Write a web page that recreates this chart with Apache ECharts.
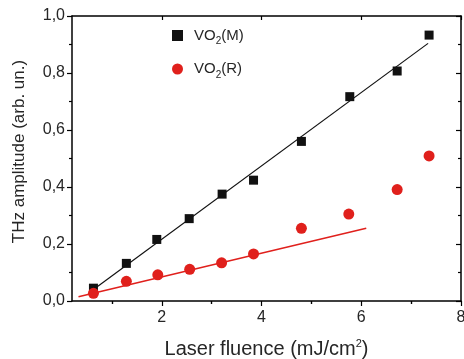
<!DOCTYPE html>
<html><head><meta charset="utf-8">
<script src="https://cdn.jsdelivr.net/npm/echarts@6/dist/echarts.min.js"></script>
<style>html,body{margin:0;padding:0;background:#fff}#c{width:464px;height:359px}</style>
</head><body><div id="c"></div>
<script>
const xM = [0.63, 1.29, 1.90, 2.55, 3.21, 3.84, 4.80, 5.77, 6.72, 7.36];
const yM = [0.045, 0.132, 0.216, 0.289, 0.375, 0.424, 0.560, 0.717, 0.807, 0.933];
const xR = [0.63, 1.29, 1.92, 2.56, 3.20, 3.84, 4.80, 5.75, 6.72, 7.36];
const yR = [0.027, 0.069, 0.092, 0.111, 0.134, 0.165, 0.255, 0.305, 0.391, 0.509];
const fitMx = [0.63, 7.34], fitMy = [0.04, 0.904];
const fitRx = [0.33, 6.10], fitRy = [0.015, 0.255];
const xMajor = [2, 4, 6, 8];
const xMinor = [1, 3, 5, 7];
const xLabels = ['2', '4', '6', '8'];

const zip = (a, b) => a.map((v, i) => [v, b[i]]);
const red = '#e0201c';
const txt = '#262626';
const font = 'Liberation Sans, Arial, sans-serif';
const XMIN = 0.2, XMAX = 8;

function xa(pos, ticks, len, inside, extra) {
  return Object.assign({
    type: 'value', position: pos, min: XMIN, max: XMAX,
    axisLine: { show: false },
    splitLine: { show: false },
    axisLabel: { show: false },
    axisTick: { show: true, customValues: ticks, length: len, inside: inside,
      lineStyle: { color: '#000', width: 1.2 } }
  }, extra || {});
}

const chart = echarts.init(document.getElementById('c'));
chart.setOption({
  animation: false,
  textStyle: { fontFamily: font },
  grid: { left: 72, right: 3, top: 16, bottom: 58, containLabel: false, outerBoundsMode: 'none' },
  legend: {
    orient: 'vertical', left: 167, top: 23, itemGap: 15,
    itemWidth: 11, itemHeight: 11,
    data: ['VO2(M)', 'VO2(R)'],
    formatter: n => n === 'VO2(M)' ? 'VO{s|2}(M)' : 'VO{s|2}(R)',
    textStyle: { fontSize: 15, color: txt, fontFamily: font, padding: [0, 0, 0, 6],
      rich: { s: { fontSize: 10, color: txt, padding: [12, 0, 0, 0], fontFamily: font } } }
  },
  xAxis: [
    xa('bottom', xMajor, 5, false, {
      axisLine: { show: true, onZero: false, lineStyle: { color: '#000', width: 1.5 } },
      axisLabel: { show: true, customValues: xMajor, margin: 9, fontSize: 16, color: txt,
        formatter: v => xLabels[xMajor.indexOf(v)] },
      name: 'Laser fluence (mJ/cm{sup|2})', nameLocation: 'middle', nameGap: 37,
      nameTextStyle: { fontSize: 20, color: txt,
        rich: { sup: { fontSize: 11, color: txt, padding: [0, 0, 12, 0] } } }
    }),
    xa('bottom', xMinor, 3, false),
    xa('top', xMajor, 4, true, {
      axisLine: { show: true, onZero: false, lineStyle: { color: '#000', width: 1.5 } } }),
    xa('top', xMinor, 3, true)
  ],
  yAxis: [
    {
      type: 'value', min: 0, max: 1, interval: 0.2, position: 'left',
      axisLine: { show: true, onZero: false, lineStyle: { color: '#000', width: 1.5 } },
      axisTick: { show: true, length: 5, lineStyle: { color: '#000', width: 1.2 } },
      minorTick: { show: true, splitNumber: 2, length: 3, lineStyle: { color: '#000', width: 1.2 } },
      splitLine: { show: false },
      axisLabel: { fontSize: 16, color: txt, margin: 7,
        formatter: v => v.toFixed(1).replace('.', ',') },
      name: 'THz amplitude (arb. un.)', nameLocation: 'middle', nameGap: 44, nameRotate: 90,
      nameTextStyle: { fontSize: 17, color: txt, padding: [0, 0, 0, 14] }
    },
    {
      type: 'value', min: 0, max: 1, interval: 0.2, position: 'right',
      axisLine: { show: true, onZero: false, lineStyle: { color: '#000', width: 1.5 } },
      axisTick: { show: true, inside: true, length: 5, lineStyle: { color: '#000', width: 1.2 } },
      minorTick: { show: true, splitNumber: 2, length: 3, lineStyle: { color: '#000', width: 1.2 } },
      splitLine: { show: false },
      axisLabel: { show: false }
    }
  ],
  series: [
    { type: 'line', data: zip(fitMx, fitMy), symbol: 'none', silent: true,
      lineStyle: { color: '#111', width: 1.2 }, z: 2 },
    { type: 'line', data: zip(fitRx, fitRy), symbol: 'none', silent: true,
      lineStyle: { color: red, width: 1.5 }, z: 2 },
    { name: 'VO2(M)', type: 'scatter', data: zip(xM, yM), symbol: 'rect', symbolSize: 9,
      itemStyle: { color: '#111', opacity: 1 }, z: 3 },
    { name: 'VO2(R)', type: 'scatter', data: zip(xR, yR), symbol: 'circle', symbolSize: 11,
      itemStyle: { color: red, opacity: 1 }, z: 3 }
  ]
});
</script></body></html>
